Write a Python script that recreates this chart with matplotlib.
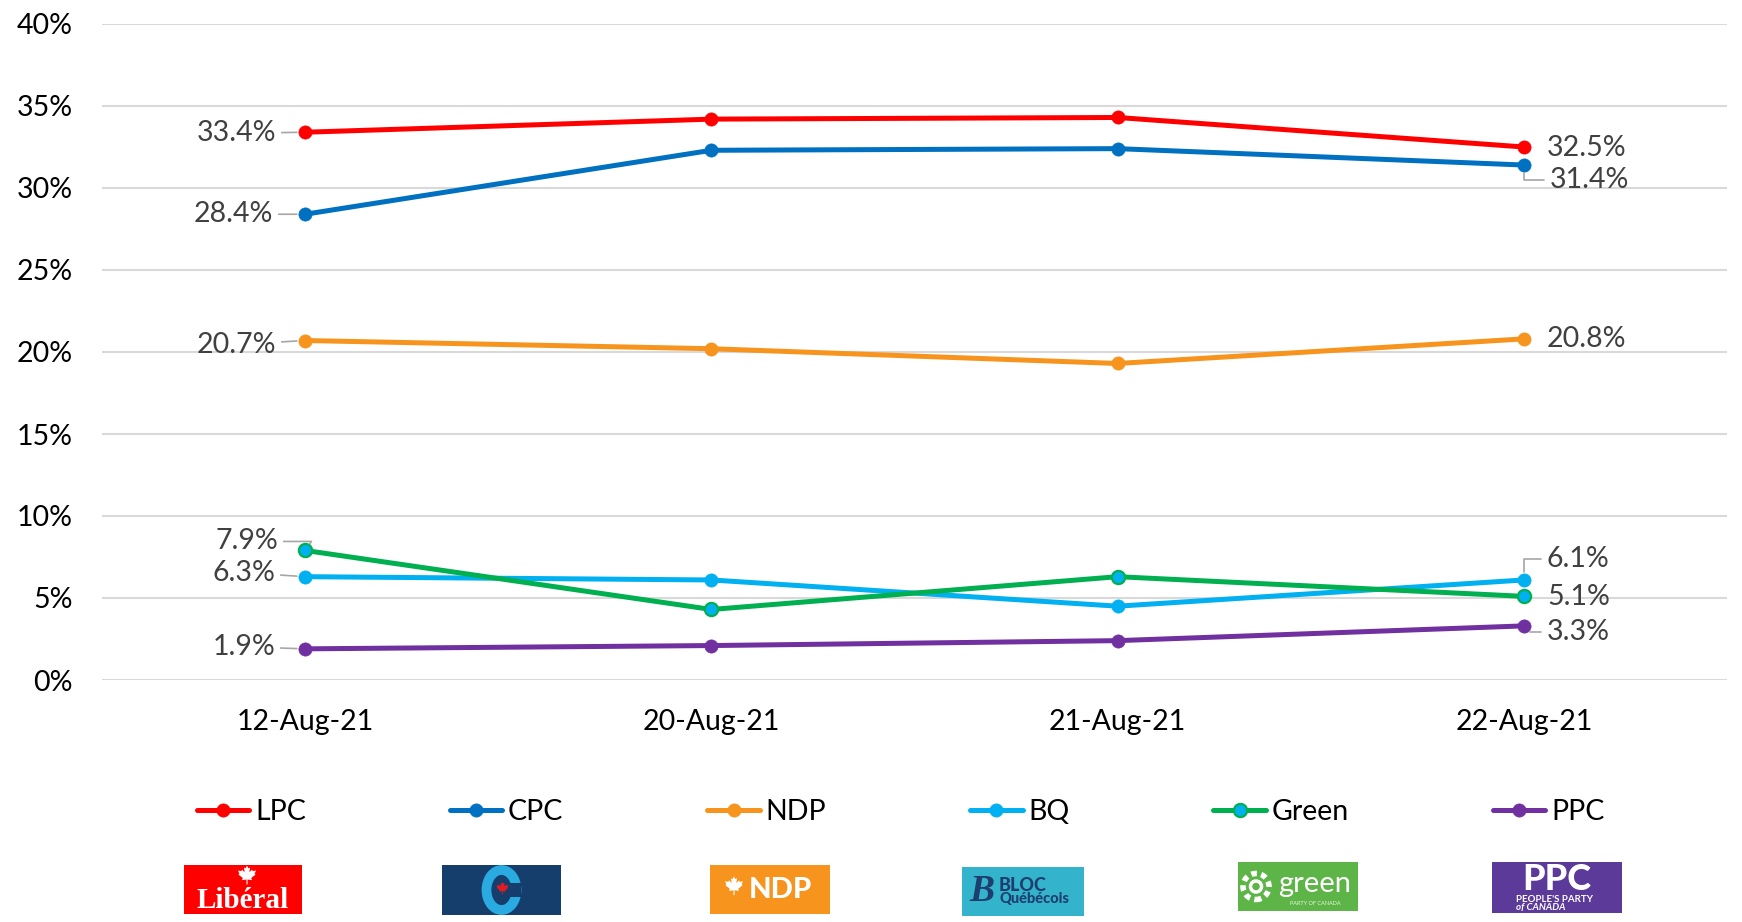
import matplotlib
matplotlib.use("Agg")
import matplotlib.pyplot as plt
from matplotlib.patches import Polygon, Rectangle, Circle, Ellipse
from matplotlib.ticker import FuncFormatter

plt.rcParams['font.family'] = ['Lato', 'DejaVu Sans']

# ---- data ----
dates = ["12-Aug-21", "20-Aug-21", "21-Aug-21", "22-Aug-21"]
parties = ["LPC", "CPC", "NDP", "BQ", "Green", "PPC"]
lpc = [33.4, 34.2, 34.3, 32.5]
cpc = [28.4, 32.3, 32.4, 31.4]
ndp = [20.7, 20.2, 19.3, 20.8]
bq = [6.3, 6.1, 4.5, 6.1]
green = [7.9, 4.3, 6.3, 5.1]
ppc = [1.9, 2.1, 2.4, 3.3]
series = [lpc, cpc, ndp, bq, green, ppc]
yticks = [0, 5, 10, 15, 20, 25, 30, 35, 40]

colors = ["#ff0000", "#0070c0", "#f7941d", "#00b0f0", "#00b050", "#7030a0"]
marker_face = ["#ff0000", "#0070c0", "#f7941d", "#00b0f0", "#00b0f0", "#7030a0"]

W, H = 1742, 922
fig = plt.figure(figsize=(W / 100, H / 100), dpi=100)
ax = fig.add_axes([102 / W, 1 - 680 / H, 1625 / W, 656 / H])

x = list(range(len(dates)))
for s, name, c, mf in zip(series, parties, colors, marker_face):
    ax.plot(x, s, color=c, lw=3.6, marker='o', ms=9.5, mfc=mf, mec=c,
            mew=1.6 if mf != c else 0.5, label=name, solid_capstyle='round', zorder=3)

FS = 20.5
ax.set_xlim(-0.5, 3.5)
ax.set_ylim(0, 40)
ax.set_yticks(yticks)
ax.yaxis.set_major_formatter(FuncFormatter(lambda v, p: f"{v:.0f}%"))
ax.set_xticks(x)
ax.set_xticklabels(dates)
ax.tick_params(axis='both', length=0, labelsize=FS, colors='black')
ax.tick_params(axis='y', pad=21)
ax.tick_params(axis='x', pad=21)
ax.grid(axis='y', color='#d9d9d9', lw=1.5)
ax.set_axisbelow(True)
for sp in ax.spines.values():
    sp.set_visible(False)

# ---- data labels ----
lead = dict(arrowstyle='-', color='#a6a6a6', lw=1.2, shrinkA=2, shrinkB=6)
left_offsets = {"LPC": (-29, -1), "CPC": (-32, 0), "NDP": (-29, -4),
                "BQ": (-30, 4), "Green": (-27, 9), "PPC": (-30, 2)}
right_offsets = {"LPC": (23, -1), "CPC": (26, -15), "NDP": (23, 0),
                 "BQ": (23, 21), "Green": (23, -1), "PPC": (23, -6)}
right_leader = {"CPC", "BQ", "PPC"}
for s, name in zip(series, parties):
    ap = dict(lead)
    if name == "Green":
        ap['connectionstyle'] = 'angle,angleA=0,angleB=55,rad=0'
    ax.annotate(f"{s[0]:.1f}%", (0, s[0]), xytext=left_offsets[name],
                textcoords='offset pixels', ha='right', va='center',
                fontsize=FS, color='#404040', arrowprops=ap, zorder=4)
    kw = {}
    if name in right_leader:
        ap2 = dict(lead)
        ap2['connectionstyle'] = 'angle,angleA=0,angleB=90,rad=0'
        kw['arrowprops'] = ap2
    ax.annotate(f"{s[-1]:.1f}%", (3, s[-1]), xytext=right_offsets[name],
                textcoords='offset pixels', ha='left', va='center',
                fontsize=FS, color='#404040', zorder=4, **kw)

# ---- legend ----
fig.legend(loc='center', bbox_to_anchor=(0.517, 1 - 812 / H), ncol=6, frameon=False,
           fontsize=FS, handlelength=1.85, handletextpad=0.2, columnspacing=5.05,
           numpoints=1)

# ---- logos (decoration) ----
LEAF = [(0, 1), (0.12, 0.78), (0.25, 0.85), (0.2, 0.45), (0.42, 0.68), (0.47, 0.55),
        (0.75, 0.6), (0.63, 0.32), (0.72, 0.27), (0.35, -0.02), (0.42, -0.2),
        (0.04, -0.15), (0.05, -0.55), (-0.05, -0.55), (-0.04, -0.15), (-0.42, -0.2),
        (-0.35, -0.02), (-0.72, 0.27), (-0.63, 0.32), (-0.75, 0.6), (-0.47, 0.55),
        (-0.42, 0.68), (-0.2, 0.45), (-0.25, 0.85), (-0.12, 0.78)]


def leaf(a, cx, cy, r, color):
    a.add_patch(Polygon([(cx + px * r, cy + py * r) for px, py in LEAF],
                        closed=True, fc=color, ec='none'))


def logo_axes(x0, y0, x1, y1, bg):
    a = fig.add_axes([x0 / W, 1 - y1 / H, (x1 - x0) / W, (y1 - y0) / H])
    a.set_xlim(0, x1 - x0)
    a.set_ylim(0, y1 - y0)
    a.axis('off')
    a.add_patch(Rectangle((0, 0), x1 - x0, y1 - y0, fc=bg, ec='none'))
    return a, x1 - x0, y1 - y0


# Liberal
a, w, h = logo_axes(184, 865, 302, 914, "#ff0000")
leaf(a, w / 2 + 4, h * 0.74, 12, "white")
a.text(w / 2, h * 0.27, "Libéral", color='white', fontsize=21, fontweight='bold',
       family='Liberation Serif', ha='center', va='center')

# CPC
a, w, h = logo_axes(442, 865, 561, 915, "#163e6c")
a.add_patch(Ellipse((w / 2, h / 2), 30, 40, fc='none', ec='#29abe2', lw=7))
a.add_patch(Rectangle((w / 2 + 5, h / 2 - 7), 14, 14, fc='#163e6c', ec='none'))
leaf(a, w / 2 + 1, h / 2, 8, "#e31b23")

# NDP
a, w, h = logo_axes(710, 865, 830, 914, "#f7941d")
leaf(a, 24, h / 2 + 1, 12, "white")
a.text(70, h / 2, "NDP", color='white', fontsize=21, fontweight='black',
       ha='center', va='center')

# BQ
a, w, h = logo_axes(962, 867, 1084, 916, "#33b3cc")
a.text(20, h / 2, "B", color='#1d3e6e', fontsize=27, fontweight='bold',
       ha='center', va='center', family='Liberation Serif', style='italic')
a.text(37, h * 0.62, "BLOC", color='#1d3e6e', fontsize=13, fontweight='black',
       ha='left', va='center')
a.text(37, h * 0.34, "Québécois", color='#1d3e6e', fontsize=10.5, fontweight='black',
       ha='left', va='center')

# Green
a, w, h = logo_axes(1238, 862, 1358, 911, "#5db548")
a.add_patch(Circle((18, h / 2), 13, fc='none', ec='white', lw=4, ls=(0, (1, 0.8))))
a.add_patch(Circle((18, h / 2), 5.5, fc='none', ec='white', lw=2.5))
a.text(77, h * 0.56, "green", color='white', fontsize=21, ha='center', va='center')
a.text(77, h * 0.15, "PARTY OF CANADA", color='#e8f5e0', fontsize=4, ha='center', va='center')

# PPC
a, w, h = logo_axes(1492, 862, 1622, 913, "#5b3a9a")
a.text(w / 2, h * 0.65, "PPC", color='white', fontsize=26, fontweight='black',
       ha='center', va='center')
leaf(a, w / 2 - 28, h * 0.72, 6, "#5b3a9a")
a.text(24, h * 0.27, "PEOPLE'S PARTY", color='white', fontsize=7, fontweight='bold',
       ha='left', va='center')
a.text(24, h * 0.11, "of CANADA", color='white', fontsize=7, fontweight='bold',
       ha='left', va='center', style='italic')

fig.savefig("out.png", dpi=100, facecolor='white')
